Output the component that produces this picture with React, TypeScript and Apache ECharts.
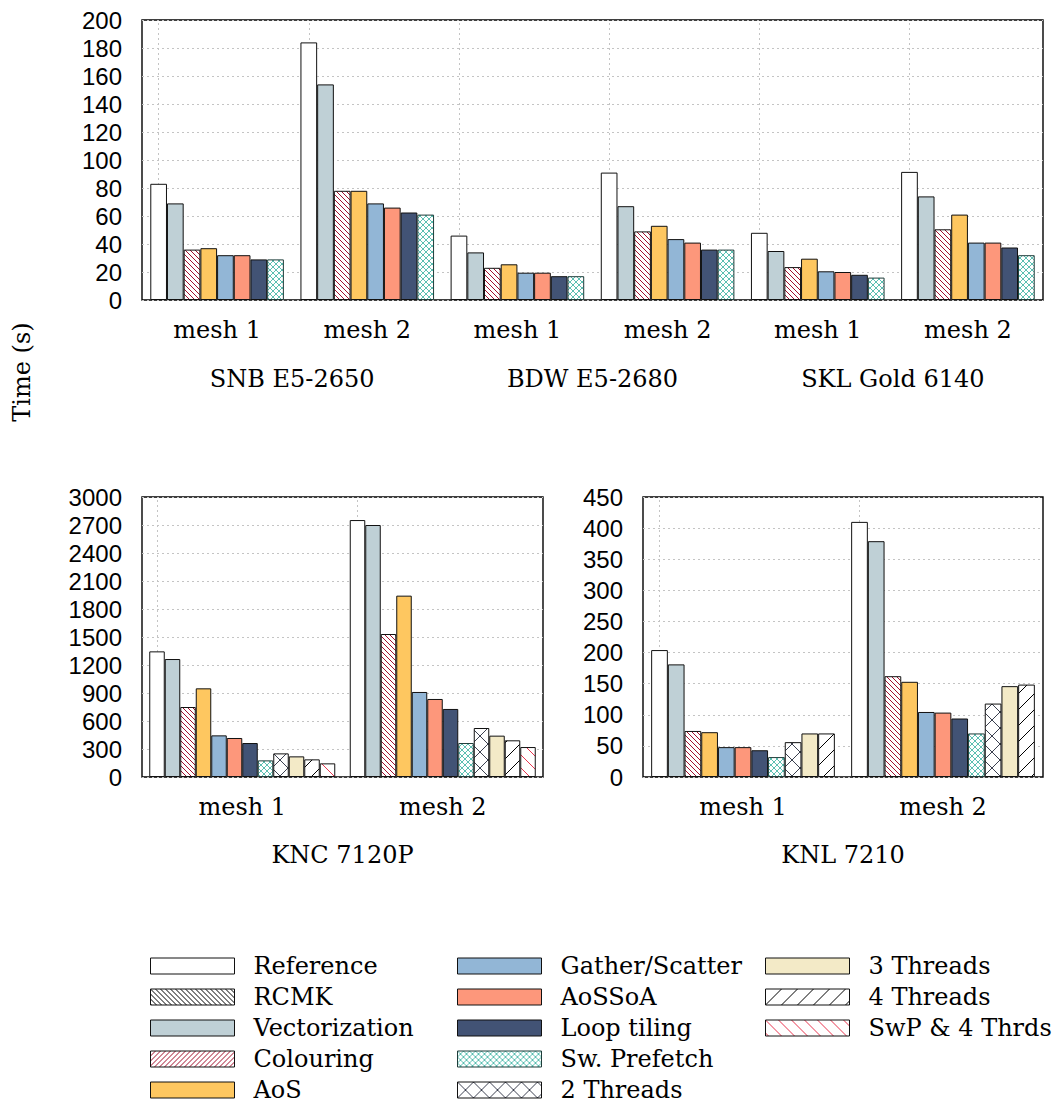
import React, { useEffect, useRef } from 'react';
import * as echarts from 'echarts';

// ---------- categories / ticks ----------
const xeonMeshes = ['mesh 1', 'mesh 2', 'mesh 1', 'mesh 2', 'mesh 1', 'mesh 2'];
const xeonMachines = ['SNB E5-2650', 'BDW E5-2680', 'SKL Gold 6140'];
const phiMeshes = ['mesh 1', 'mesh 2'];
const kncMachine = ['KNC 7120P'];
const knlMachine = ['KNL 7210'];

const xeonYMax = 200;
const xeonYStep = 20;
const kncYMax = 3000;
const kncYStep = 300;
const knlYMax = 450;
const knlYStep = 50;

// ---------- Xeon (SNB, BDW, SKL) values, seconds ----------
const xeonReference = [83, 184, 46, 91, 48, 91.5];
const xeonVectorization = [69, 154, 34, 67, 35, 74];
const xeonColouring = [36, 78, 23, 49, 23.5, 50.5];
const xeonAoS = [37, 78, 25.5, 53, 29.5, 61];
const xeonGather = [32, 69, 19.5, 43.5, 20.5, 41];
const xeonAoSSoA = [32, 66, 19.5, 41, 20, 41];
const xeonLoopTiling = [29, 62.5, 17, 36, 18, 37.5];
const xeonSwPrefetch = [29, 61, 17, 36, 16, 32];

// ---------- KNC 7120P values ----------
const kncReference = [1346, 2753];
const kncVectorization = [1264, 2700];
const kncColouring = [750, 1532];
const kncAoS = [950, 1943];
const kncGather = [446, 911];
const kncAoSSoA = [418, 836];
const kncLoopTiling = [364, 729];
const kncSwPrefetch = [178, 364];
const knc2Threads = [253, 525];
const knc3Threads = [221, 443];
const knc4Threads = [189, 393];
const kncSwP4Threads = [146, 321];

// ---------- KNL 7210 values ----------
const knlReference = [204, 410];
const knlVectorization = [181, 379];
const knlColouring = [74, 162];
const knlAoS = [72, 153];
const knlGather = [48, 104.5];
const knlAoSSoA = [48, 103.5];
const knlLoopTiling = [43, 94];
const knlSwPrefetch = [32, 70];
const knl2Threads = [56, 118];
const knl3Threads = [70, 146];
const knl4Threads = [70, 148.5];

const xeonNames = ['Reference', 'Vectorization', 'Colouring', 'AoS', 'Gather/Scatter', 'AoSSoA', 'Loop tiling', 'Sw. Prefetch'];
const xeonValues = [xeonReference, xeonVectorization, xeonColouring, xeonAoS, xeonGather, xeonAoSSoA, xeonLoopTiling, xeonSwPrefetch];
const kncNames = [...xeonNames, '2 Threads', '3 Threads', '4 Threads', 'SwP & 4 Thrds'];
const kncValues = [kncReference, kncVectorization, kncColouring, kncAoS, kncGather, kncAoSSoA, kncLoopTiling, kncSwPrefetch, knc2Threads, knc3Threads, knc4Threads, kncSwP4Threads];
const knlNames = [...xeonNames, '2 Threads', '3 Threads', '4 Threads'];
const knlValues = [knlReference, knlVectorization, knlColouring, knlAoS, knlGather, knlAoSSoA, knlLoopTiling, knlSwPrefetch, knl2Threads, knl3Threads, knl4Threads];

const legendColumns = [
  ['Reference', 'RCMK', 'Vectorization', 'Colouring', 'AoS'],
  ['Gather/Scatter', 'AoSSoA', 'Loop tiling', 'Sw. Prefetch', '2 Threads'],
  ['3 Threads', '4 Threads', 'SwP & 4 Thrds'],
];

function hatch(kind: 'b' | 'f' | 'x', color: string, size: number, lw: number) {
  const c = document.createElement('canvas');
  c.width = size;
  c.height = size;
  const g = c.getContext('2d')!;
  g.fillStyle = '#ffffff';
  g.fillRect(0, 0, size, size);
  g.strokeStyle = color;
  g.lineWidth = lw;
  g.beginPath();
  for (const k of [-size, 0, size]) {
    if (kind !== 'f') {
      g.moveTo(k, 0);
      g.lineTo(k + size, size);
    }
    if (kind !== 'b') {
      g.moveTo(k, size);
      g.lineTo(k + size, 0);
    }
  }
  g.stroke();
  return { image: c, repeat: 'repeat', imageWidth: size, imageHeight: size } as any;
}

const SERIF = 'DejaVu Serif';
const SANS = 'Liberation Sans';
const GRID_LINE = { type: [2, 3] as any, color: '#c4c4c4', width: 1 };

export default function App() {
  const ref = useRef<HTMLDivElement>(null);

  useEffect(() => {
    document.body.style.margin = '0';
    if (!ref.current) return;
    const chart = echarts.init(ref.current, undefined, { renderer: 'svg' });

    const fills: Record<string, any> = {
      Reference: '#ffffff',
      RCMK: hatch('b', '#000000', 5, 1),
      Vectorization: '#bfd0d6',
      Colouring: hatch('b', '#a3102e', 5, 1),
      AoS: '#fec760',
      'Gather/Scatter': '#92b6d6',
      AoSSoA: '#fd977b',
      'Loop tiling': '#425375',
      'Sw. Prefetch': hatch('x', '#5bbfb2', 6, 1),
      '2 Threads': hatch('x', '#3c4150', 16, 1),
      '3 Threads': '#f3eac7',
      '4 Threads': hatch('f', '#000000', 16, 1),
      'SwP & 4 Thrds': hatch('b', '#e8354f', 13, 1),
    };
    const borders: Record<string, string> = {
      'Sw. Prefetch': '#1f3d3a',
    };

    const centerLines = (count: number) => ({
      silent: true,
      symbol: 'none',
      z: 1,
      label: { show: false },
      lineStyle: GRID_LINE,
      emphasis: { disabled: true },
      data: Array.from({ length: count }, (_, i) => ({ xAxis: i })),
    });

    const bars = (axisIdx: number, yIdx: number, names: string[], values: number[][], width: number, cats: string[]) =>
      names.map((n, i) => ({
        type: 'bar',
        name: n,
        xAxisIndex: axisIdx,
        yAxisIndex: yIdx,
        data: values[i],
        barWidth: width,
        barGap: '0%',
        z: 2,
        itemStyle: { color: fills[n], borderColor: borders[n] || '#111111', borderWidth: 1 },
        ...(i === 0 ? { markLine: centerLines(cats.length) } : {}),
      }));

    const meshAxis = (gridIndex: number, data: string[]) => ({
      type: 'category',
      gridIndex,
      data,
      axisLine: { show: false },
      axisTick: { show: false },
      axisLabel: { margin: 18, fontFamily: SERIF, fontSize: 24, color: '#000', interval: 0 },
      splitLine: { show: false },
    });
    const machineAxis = (gridIndex: number, data: string[], margin: number) => ({
      type: 'category',
      gridIndex,
      position: 'bottom',
      data,
      axisLine: { show: false },
      axisTick: { show: false },
      splitLine: { show: false },
      axisLabel: { margin, fontFamily: SERIF, fontSize: 24, color: '#000', interval: 0 },
    });
    const valueAxis = (gridIndex: number, max: number, interval: number) => ({
      type: 'value',
      gridIndex,
      min: 0,
      max,
      interval,
      axisLine: { show: false },
      axisTick: { show: false },
      axisLabel: { margin: 20, fontFamily: SANS, fontSize: 24, color: '#000', formatter: (v: number) => String(v) },
      splitLine: { show: true, lineStyle: GRID_LINE },
    });

    const gridStyle = { show: true, borderColor: '#000', borderWidth: 1.4, backgroundColor: 'transparent' };

    chart.setOption({
      animation: false,
      grid: [
        { left: 142, top: 20, width: 901, height: 280, ...gridStyle },
        { left: 142, top: 497, width: 401, height: 280, ...gridStyle },
        { left: 643, top: 497, width: 400, height: 280, ...gridStyle },
        { left: -200, top: -200, width: 10, height: 10, show: false },
      ],
      xAxis: [
        meshAxis(0, xeonMeshes),
        machineAxis(0, xeonMachines, 67),
        meshAxis(1, phiMeshes),
        machineAxis(1, kncMachine, 66),
        meshAxis(2, phiMeshes),
        machineAxis(2, knlMachine, 66),
        { type: 'category', gridIndex: 3, show: false, data: ['x'] },
      ],
      yAxis: [
        valueAxis(0, xeonYMax, xeonYStep),
        valueAxis(1, kncYMax, kncYStep),
        valueAxis(2, knlYMax, knlYStep),
        { type: 'value', gridIndex: 3, show: false },
      ],
      legend: legendColumns.map((names, i) => ({
        orient: 'vertical',
        left: [150, 457, 765][i],
        top: 954,
        padding: 0,
        itemGap: 7,
        itemWidth: 84,
        itemHeight: 16,
        icon: 'rect',
        selectedMode: false,
        itemStyle: { borderWidth: 1 },
        data: names.map((n) =>
          n === 'Colouring' ? { name: n, itemStyle: { color: hatch('f', '#a3102e', 5, 1) } } : n
        ),
        textStyle: { fontFamily: SERIF, fontSize: 24, color: '#000', padding: [0, 0, 0, 14] },
      })),
      graphic: [
        {
          type: 'text',
          x: 22,
          y: 372,
          rotation: Math.PI / 2,
          style: { text: 'Time (s)', font: `24px "${SERIF}"`, fill: '#000', align: 'center', verticalAlign: 'middle' },
        },
      ],
      series: [
        ...bars(0, 0, xeonNames, xeonValues, 16.7, xeonMeshes),
        ...bars(2, 1, kncNames, kncValues, 15.5, phiMeshes),
        ...bars(4, 2, knlNames, knlValues, 16.7, phiMeshes),
        {
          type: 'bar',
          name: 'RCMK',
          xAxisIndex: 6,
          yAxisIndex: 3,
          data: [],
          itemStyle: { color: fills.RCMK, borderColor: '#111111', borderWidth: 1 },
        },
      ],
    } as any);

    return () => chart.dispose();
  }, []);

  return <div ref={ref} style={{ width: 1060, height: 1106 }} />;
}
